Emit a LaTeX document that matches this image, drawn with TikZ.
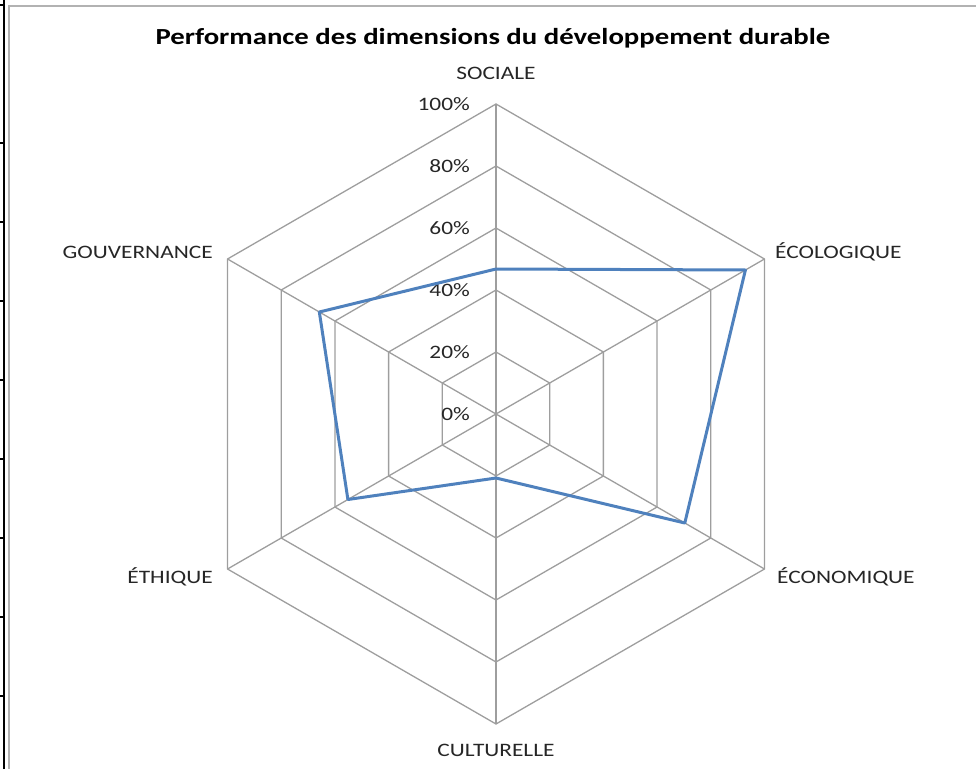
\documentclass[tikz,border=0pt]{standalone}
\usepackage{fontspec}
\setmainfont{Carlito}
\newfontfamily\labelfont[FakeStretch=1.23]{Carlito}
\newfontfamily\titlefont[FakeStretch=1.25]{Carlito}
\usetikzlibrary{positioning}
\definecolor{gridgray}{RGB}{158,158,158}
\definecolor{framegray}{RGB}{178,178,178}
\definecolor{seriesblue}{RGB}{79,129,189}

\begin{document}
\begin{tikzpicture}[x=1pt,y=1pt,
    grid line/.style={draw=gridgray, line width=1.3pt},
    series line/.style={draw=seriesblue, line width=3pt, line join=round},
    axis label/.style={font=\labelfont\fontsize{19}{22}\selectfont, text=black!85, inner sep=0pt},
    tick label/.style={font=\labelfont\fontsize{19}{22}\selectfont, text=black!85, inner sep=0pt, anchor=east}]
  \useasboundingbox (-496,-355) rectangle (480,414);
  % frame of the chart
  \draw[framegray, line width=2pt] (-486.5,-355) -- (-486.5,408) -- (480,408);
  \draw[line width=2.5pt] (-492,-355) -- (-492,414);
  \foreach \ty in {409,271,192,113,34,-45,-124,-203,-282}
    \draw[line width=1.5pt] (-496,\ty) -- (-492,\ty);
  % rings
  \foreach \r in {62,124,186,248,310}
    \draw[grid line] (90:\r) -- (30:\r) -- (-30:\r) -- (-90:\r) -- (-150:\r) -- (150:\r) -- cycle;
  % axes
  \coordinate (c) at (0,0);
  \foreach \a/\n in {90/soc,30/eco,-30/econ,-90/cult,-150/eth,150/gouv}
    \draw[grid line] (c) -- (\a:310) coordinate (\n);
  % tick labels
  \foreach \v [count=\i from 0] in {0\%,20\%,40\%,60\%,80\%,100\%}
    \node[tick label] (t\i) at (-26,62*\i) {\v};
  % series
  \coordinate (p1) at (90:145);
  \coordinate (p2) at (30:288);
  \coordinate (p3) at (-30:218);
  \coordinate (p4) at (-90:64);
  \coordinate (p5) at (-150:171);
  \coordinate (p6) at (150:204);
  \draw[series line] (p1) -- (p2) -- (p3) -- (p4) -- (p5) -- (p6) -- cycle;
  % axis labels
  \node[axis label, above=24pt of soc] (sociale) {SOCIALE};
  \node[axis label, anchor=base west] (ecologique) at (279,156) {ÉCOLOGIQUE};
  \node[axis label, anchor=base west] (economique) at (281,-169) {ÉCONOMIQUE};
  \node[axis label, below=20pt of cult] (culturelle) {CULTURELLE};
  \node[axis label, anchor=base east] (ethique) at (-283,-169) {ÉTHIQUE};
  \node[axis label, anchor=base east] (gouvernance) at (-283,156) {GOUVERNANCE};
  % title
  \node[font=\titlefont\bfseries\fontsize{23}{26}\selectfont, inner sep=0pt, anchor=base] (title) at (-3,369) {Performance des dimensions du développement durable};
\end{tikzpicture}
\end{document}
